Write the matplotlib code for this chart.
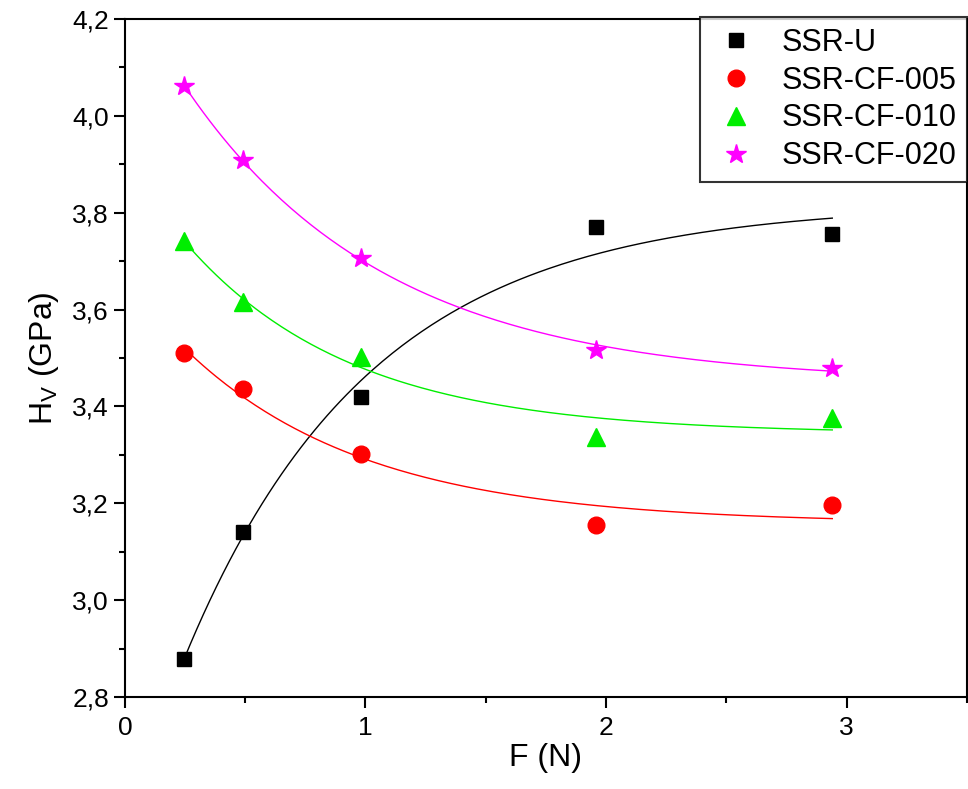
import matplotlib
matplotlib.use('Agg')
import matplotlib.pyplot as plt
import numpy as np
from matplotlib.ticker import MultipleLocator, FuncFormatter

plt.rcParams['font.family'] = ['Liberation Sans', 'DejaVu Sans']
plt.rcParams['mathtext.fontset'] = 'custom'
plt.rcParams['mathtext.rm'] = 'Liberation Sans'

# load (N)
force = [0.245, 0.49, 0.98, 1.96, 2.94]

# Vickers hardness (GPa)
hv_u = [2.878, 3.141, 3.420, 3.770, 3.756]
hv_005 = [3.510, 3.436, 3.302, 3.155, 3.196]
hv_010 = [3.742, 3.616, 3.502, 3.337, 3.376]
hv_020 = [4.062, 3.909, 3.707, 3.517, 3.479]

labels = ['SSR-U', 'SSR-CF-005', 'SSR-CF-010', 'SSR-CF-020']
colors = ['k', '#ff0000', '#00ee00', '#ff00ff']
markers = ['s', 'o', '^', '*']
msizes = [10, 12, 13, 15]


def exp_fit(x, y):
    # y = y0 + A*exp(-x/t), grid search over t, least squares for y0 and A
    x = np.asarray(x)
    y = np.asarray(y)
    best = None
    for t in np.linspace(0.1, 5, 2000):
        M = np.column_stack([np.ones_like(x), np.exp(-x / t)])
        coef, res, _, _ = np.linalg.lstsq(M, y, rcond=None)
        err = np.sum((M @ coef - y) ** 2)
        if best is None or err < best[0]:
            best = (err, coef, t)
    _, coef, t = best
    return lambda xx: coef[0] + coef[1] * np.exp(-xx / t)


fig = plt.figure(figsize=(9.68, 7.89), dpi=100)
ax = fig.add_axes([0.129, 0.1166, 0.870, 0.8594])

xs = np.linspace(force[0], force[-1], 200)
for y, lab, c, m, ms in zip([hv_u, hv_005, hv_010, hv_020], labels, colors, markers, msizes):
    f = exp_fit(force, y)
    ax.plot(xs, f(xs), color=c, lw=1.0)
    ax.plot(force, y, linestyle='none', marker=m, color=c, markersize=ms, label=lab)

ax.set_xlim(0, 3.5)
ax.set_ylim(2.8, 4.2)
ax.xaxis.set_major_locator(MultipleLocator(1))
ax.xaxis.set_minor_locator(MultipleLocator(0.5))
ax.yaxis.set_major_locator(MultipleLocator(0.2))
ax.yaxis.set_minor_locator(MultipleLocator(0.1))
ax.yaxis.set_major_formatter(FuncFormatter(lambda v, p: ('%.1f' % v).replace('.', ',')))
ax.xaxis.set_major_formatter(FuncFormatter(lambda v, p: '%d' % v))

ax.tick_params(which='major', direction='out', length=8, width=1.5, labelsize=19)
ax.tick_params(which='minor', direction='out', length=4, width=1.5)
ax.tick_params(axis='x', pad=6)
for s in ax.spines.values():
    s.set_linewidth(1.5)

ax.set_xlabel('F (N)', fontsize=23, labelpad=2)
ax.set_ylabel(r'H$_\mathregular{V}$ (GPa)', fontsize=23, labelpad=8)

# legend runs slightly past the right edge, as in the original
leg = ax.legend(loc='upper right', bbox_to_anchor=(1.0, 1.003), fontsize=22,
                frameon=True, fancybox=False, edgecolor='k', borderaxespad=0.0,
                handletextpad=0.62, labelspacing=0.26, borderpad=0.35,
                handlelength=1.7)
leg.get_frame().set_linewidth(1.5)

fig.savefig('out.png', dpi=100)
